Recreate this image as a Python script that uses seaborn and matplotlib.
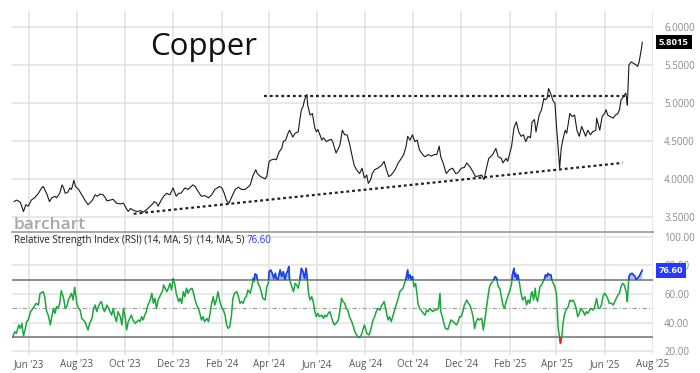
import numpy as np
import pandas as pd
import matplotlib
matplotlib.use("Agg")
import matplotlib.pyplot as plt
import matplotlib.transforms as mtransforms
from matplotlib.patches import Rectangle
from matplotlib.ticker import FormatStrFormatter
import seaborn as sns

# ---------------- data ----------------
BASE_DATE = "2023-06-01"   # day offsets below are counted from this date

price_day = [-19, -16, -14, -11, -7, -4, -1, 3, 8, 12, 16, 18, 20, 23, 26, 29, 33, 35, 39, 42,
             44, 46, 49, 52, 54, 57, 59, 63, 67, 71, 75, 80, 84, 87, 90, 94, 97, 99, 103, 107,
             111, 116, 120, 122, 126, 129, 132, 137, 142, 145, 149, 154, 157, 159, 162, 164, 168, 171, 175, 179,
             183, 187, 190, 193, 198, 202, 208, 211, 215, 219, 223, 228, 232, 236, 242, 245, 248, 251, 254, 257,
             262, 266, 270, 274, 278, 281, 284, 288, 290, 294, 300, 302, 305, 308, 312, 314, 318, 321, 323, 326,
             329, 331, 335, 338, 342, 344, 346, 348, 350, 353, 354, 357, 360, 363, 365, 367, 372, 374, 378, 381,
             384, 386, 390, 393, 395, 398, 401, 404, 407, 410, 413, 416, 420, 423, 426, 429, 431, 434, 436, 439,
             443, 448, 451, 454, 457, 460, 465, 469, 473, 476, 479, 481, 484, 487, 490, 493, 496, 500, 503, 507,
             511, 515, 518, 521, 523, 526, 530, 534, 538, 542, 545, 549, 553, 556, 560, 563, 567, 572, 575, 578,
             581, 584, 589, 593, 596, 600, 602, 606, 608, 613, 616, 619, 622, 625, 628, 631, 634, 637, 639, 642,
             644, 648, 651, 654, 656, 658, 660, 663, 666, 668, 670, 672, 674, 676, 678, 681, 683, 687, 690, 693,
             696, 699, 702, 704, 707, 710, 713, 716, 720, 721, 725, 728, 731, 733, 735, 738, 742, 745, 748, 750,
             752, 755, 758, 759, 760, 762, 765, 768, 771, 773, 775, 778, 779]
price_val = [3.70, 3.72, 3.71, 3.69, 3.57, 3.66, 3.64, 3.72, 3.76, 3.81, 3.88, 3.90, 3.86, 3.79, 3.70, 3.75, 3.77, 3.75, 3.81, 3.92,
             3.88, 3.81, 3.82, 3.88, 3.86, 3.98, 3.90, 3.86, 3.79, 3.72, 3.66, 3.71, 3.79, 3.77, 3.80, 3.79, 3.75, 3.71, 3.72, 3.73,
             3.68, 3.67, 3.68, 3.64, 3.57, 3.61, 3.59, 3.57, 3.58, 3.56, 3.59, 3.64, 3.67, 3.70, 3.68, 3.64, 3.72, 3.77, 3.81, 3.79,
             3.88, 3.77, 3.81, 3.81, 3.88, 3.86, 3.92, 3.90, 3.83, 3.77, 3.78, 3.75, 3.79, 3.86, 3.90, 3.88, 3.81, 3.71, 3.68, 3.75,
             3.86, 3.89, 3.86, 3.86, 3.89, 3.92, 4.03, 4.12, 4.07, 4.03, 4.00, 4.03, 4.23, 4.25, 4.26, 4.25, 4.36, 4.40, 4.49, 4.51,
             4.60, 4.64, 4.55, 4.60, 4.62, 4.78, 4.91, 4.95, 5.04, 5.11, 4.97, 4.84, 4.86, 4.67, 4.62, 4.65, 4.51, 4.54, 4.49, 4.51,
             4.52, 4.48, 4.34, 4.40, 4.45, 4.64, 4.58, 4.58, 4.47, 4.32, 4.18, 4.12, 4.07, 4.14, 4.01, 4.05, 3.94, 3.99, 4.07, 4.12,
             4.14, 4.18, 4.23, 4.12, 4.03, 4.05, 4.12, 4.21, 4.27, 4.32, 4.43, 4.56, 4.51, 4.58, 4.49, 4.51, 4.38, 4.32, 4.29, 4.32,
             4.30, 4.32, 4.32, 4.43, 4.29, 4.21, 4.07, 4.12, 4.14, 4.07, 4.08, 4.14, 4.15, 4.21, 4.16, 4.11, 4.03, 4.04, 4.05, 3.99,
             4.14, 4.27, 4.32, 4.40, 4.29, 4.27, 4.21, 4.27, 4.23, 4.43, 4.67, 4.75, 4.62, 4.56, 4.58, 4.49, 4.56, 4.54, 4.75, 4.78,
             4.62, 4.84, 4.91, 5.06, 5.04, 5.06, 5.19, 5.11, 5.02, 5.00, 4.69, 4.43, 4.14, 4.40, 4.51, 4.64, 4.60, 4.86, 4.82, 4.84,
             4.64, 4.56, 4.69, 4.64, 4.56, 4.64, 4.58, 4.62, 4.64, 4.80, 4.64, 4.82, 4.86, 4.91, 4.84, 4.82, 4.80, 4.84, 4.86, 4.91,
             5.04, 5.08, 5.13, 5.06, 4.97, 5.50, 5.54, 5.52, 5.50, 5.48, 5.54, 5.72, 5.8015]

rsi_day = [-21, -18, -16, -13, -11, -9, -7, -5, -3, -1, 2, 5, 9, 12, 14, 16, 18, 20, 22, 25,
           27, 29, 31, 33, 35, 37, 39, 41, 44, 46, 48, 50, 52, 54, 56, 58, 61, 63, 65, 67,
           71, 75, 77, 80, 82, 84, 86, 88, 90, 92, 94, 96, 99, 101, 103, 105, 107, 109, 111, 113,
           116, 118, 120, 122, 124, 126, 128, 130, 132, 135, 137, 139, 141, 143, 145, 147, 149, 151, 154, 156,
           158, 160, 162, 164, 166, 168, 170, 171, 175, 177, 179, 181, 183, 185, 187, 190, 192, 194, 196, 198,
           200, 202, 204, 207, 209, 211, 213, 215, 217, 219, 221, 223, 226, 228, 230, 232, 234, 236, 238, 240,
           242, 245, 247, 249, 251, 253, 255, 257, 259, 261, 264, 266, 268, 270, 272, 274, 276, 278, 281, 283,
           285, 286, 287, 289, 291, 293, 295, 297, 300, 302, 304, 305, 307, 309, 311, 313, 314, 316, 319, 321,
           323, 325, 327, 329, 330, 331, 333, 336, 338, 340, 342, 344, 346, 348, 350, 352, 354, 355, 357, 359,
           361, 363, 365, 367, 369, 372, 374, 376, 378, 380, 382, 384, 386, 388, 390, 393, 395, 397, 399, 401,
           403, 405, 407, 410, 412, 414, 416, 418, 420, 422, 424, 426, 428, 429, 432, 434, 436, 437, 439, 441,
           443, 446, 448, 450, 451, 453, 456, 458, 460, 462, 465, 467, 469, 471, 473, 475, 477, 479, 481, 482,
           484, 486, 487, 489, 491, 493, 494, 496, 498, 501, 503, 505, 507, 509, 511, 513, 515, 517, 520, 522,
           523, 525, 527, 529, 532, 534, 536, 539, 541, 543, 545, 547, 549, 551, 553, 556, 558, 560, 562, 564,
           566, 568, 570, 572, 575, 577, 579, 581, 583, 585, 587, 589, 592, 594, 596, 598, 600, 602, 604, 606,
           608, 611, 613, 614, 616, 617, 618, 620, 621, 623, 625, 627, 630, 632, 634, 636, 638, 639, 641, 643,
           644, 646, 649, 651, 653, 655, 656, 658, 659, 661, 663, 664, 666, 668, 670, 671, 672, 674, 675, 677,
           678, 680, 682, 685, 687, 689, 691, 693, 695, 697, 699, 701, 704, 706, 708, 710, 712, 714, 716, 718,
           721, 723, 725, 727, 729, 731, 733, 735, 737, 740, 742, 744, 746, 748, 750, 752, 754, 756, 759, 760,
           762, 764, 766, 768, 770, 771, 773, 776, 779]
rsi_val = [29.8, 33.7, 32.6, 38.4, 36.0, 39.5, 30.7, 34.9, 40.7, 41.9, 47.7, 50.0, 53.5, 52.3, 60.5, 60.9, 61.6, 58.1, 48.8, 44.2,
           38.4, 44.2, 50.0, 46.5, 51.2, 50.0, 53.5, 62.3, 57.0, 50.0, 51.2, 55.8, 58.1, 60.5, 55.8, 64.7, 52.3, 50.0, 48.8, 43.0,
           40.7, 34.9, 39.5, 43.0, 50.0, 52.3, 47.7, 51.2, 53.5, 54.7, 50.0, 47.7, 52.3, 50.0, 47.7, 45.3, 50.0, 44.2, 40.7, 47.7,
           44.2, 38.4, 50.0, 44.2, 34.9, 40.7, 43.0, 45.3, 41.9, 39.5, 40.7, 41.9, 40.7, 44.2, 41.9, 45.3, 47.7, 52.3, 55.8, 60.5,
           53.5, 57.0, 50.0, 55.8, 58.1, 60.5, 62.8, 66.3, 61.6, 64.0, 67.4, 62.8, 70.5, 67.4, 60.5, 54.7, 57.0, 53.5, 61.6, 58.1,
           64.0, 60.5, 62.8, 64.0, 60.5, 55.8, 52.3, 50.0, 46.5, 41.9, 44.2, 40.7, 43.0, 40.7, 46.5, 53.5, 58.1, 52.3, 55.8, 61.6,
           55.8, 50.0, 48.8, 45.3, 38.4, 36.0, 37.2, 44.2, 57.0, 60.5, 61.6, 58.1, 53.5, 54.7, 53.5, 57.0, 58.1, 62.8, 60.5, 65.1,
           70.9, 68.6, 74.0, 73.3, 67.4, 65.1, 61.6, 57.0, 55.8, 65.1, 67.4, 75.6, 76.7, 74.4, 70.9, 74.4, 70.9, 69.8, 76.7, 72.1,
           75.6, 69.8, 74.4, 76.7, 79.1, 69.8, 66.3, 61.6, 67.4, 66.3, 64.0, 69.8, 77.9, 75.6, 70.9, 77.9, 67.4, 60.5, 55.8, 58.1,
           54.7, 47.7, 44.2, 46.5, 44.2, 45.3, 43.0, 45.3, 44.2, 46.5, 47.7, 44.2, 40.7, 38.4, 39.5, 41.9, 48.8, 57.0, 54.7, 53.5,
           50.0, 48.8, 44.2, 40.7, 37.2, 33.7, 31.4, 30.2, 29.8, 31.4, 34.9, 38.4, 34.9, 32.6, 31.4, 34.9, 39.5, 41.9, 44.2, 47.7,
           50.0, 48.8, 52.3, 53.5, 54.7, 50.0, 41.9, 44.2, 40.7, 44.2, 50.0, 53.5, 57.0, 61.6, 62.8, 64.0, 67.4, 70.9, 76.7, 70.9,
           73.3, 69.8, 72.1, 65.1, 67.4, 59.3, 53.5, 50.0, 48.8, 46.5, 45.3, 48.8, 47.7, 50.0, 48.8, 47.7, 48.8, 48.8, 50.0, 60.5,
           47.7, 44.2, 39.5, 36.0, 35.3, 38.4, 41.9, 40.7, 39.5, 38.4, 40.7, 44.2, 44.2, 47.7, 52.3, 55.8, 53.5, 52.3, 48.8, 44.2,
           36.0, 40.7, 43.0, 41.9, 43.0, 34.9, 41.9, 50.0, 58.1, 65.1, 67.4, 68.6, 72.1, 70.9, 65.1, 64.0, 58.1, 52.3, 50.0, 54.7,
           58.1, 62.8, 67.4, 73.3, 77.9, 72.1, 74.4, 69.8, 73.3, 67.4, 60.5, 55.8, 58.1, 52.3, 55.8, 53.5, 60.5, 61.6, 55.8, 64.0,
           58.1, 54.7, 65.1, 66.3, 68.6, 70.9, 73.3, 72.1, 74.4, 73.3, 73.3, 69.8, 67.4, 65.1, 59.3, 50.0, 37.2, 29.1, 25.6, 31.4,
           38.4, 45.3, 48.8, 51.2, 55.8, 54.7, 55.8, 53.5, 50.0, 44.2, 46.5, 50.0, 47.7, 45.3, 47.7, 46.5, 48.8, 50.0, 48.8, 50.0,
           57.0, 50.0, 50.0, 52.3, 58.1, 60.5, 59.3, 57.0, 53.5, 53.5, 52.3, 54.7, 57.0, 59.3, 60.5, 65.1, 67.4, 66.3, 60.5, 54.7,
           72.1, 74.0, 74.4, 73.3, 72.1, 69.8, 70.9, 73.3, 76.6]

# drawn trend lines (start / end)
resist_day = [298, 760]
resist_val = [5.09, 5.09]
support_day = [133, 754]
support_val = [3.54, 4.21]

price_ticks = [3.5, 4.0, 4.5, 5.0, 5.5, 6.0]
rsi_ticks = [20, 40, 60, 80, 100]
month_ticks = ["2023-06-01", "2023-08-01", "2023-10-01", "2023-12-01", "2024-02-01", "2024-04-01",
               "2024-06-01", "2024-08-01", "2024-10-01", "2024-12-01", "2025-02-01", "2025-04-01",
               "2025-06-01", "2025-08-01"]
month_labels = ["Jun '23", "Aug '23", "Oct '23", "Dec '23", "Feb '24", "Apr '24", "Jun '24",
                "Aug '24", "Oct '24", "Dec '24", "Feb '25", "Apr '25", "Jun '25", "Aug '25"]
title = "Copper"
rsi_title = "Relative Strength Index (RSI) (14, MA, 5)  (14, MA, 5) "

# ---------------- build frames ----------------
base = pd.Timestamp(BASE_DATE)
def to_dates(days):
    return base + pd.to_timedelta(np.asarray(days, dtype=float), unit="D")

price_df = pd.DataFrame({"date": to_dates(price_day), "price": price_val})
rsi_df = pd.DataFrame({"date": to_dates(rsi_day), "rsi": rsi_val})
resist_df = pd.DataFrame({"date": to_dates(resist_day), "v": resist_val})
support_df = pd.DataFrame({"date": to_dates(support_day), "v": support_val})

# ---------------- style ----------------
sns.set_style("white")
plt.rcParams["font.family"] = ["Open Sans", "DejaVu Sans"]

GRID = "#e4e4e4"
GREEN = "#1aa83c"
BLUE = "#2438ff"
RED = "#ff1a1a"
TICKC = "#8a8a8a"

fig = plt.figure(figsize=(7.0, 3.73), dpi=100)
W, H = 700, 373
ax1 = fig.add_axes([12 / W, 1 - 232 / H, 641 / W, 221 / H])
ax2 = fig.add_axes([12 / W, 1 - 355 / H, 641 / W, 122 / H], sharex=ax1)

xmin = base - pd.Timedelta(days=21.6)
xmax = base + pd.Timedelta(days=792.6)

# ---------------- price panel ----------------
sns.lineplot(data=price_df, x="date", y="price", ax=ax1, color="#1a1a1a", lw=0.8)
sns.lineplot(data=resist_df, x="date", y="v", ax=ax1, color="#222222", lw=1.6,
             linestyle=(0, (1.3, 1.3)))
sns.lineplot(data=support_df, x="date", y="v", ax=ax1, color="#222222", lw=1.6,
             linestyle=(0, (1.3, 1.3)))

ax1.set_xlim(xmin, xmax)
ax1.set_ylim(3.30, 6.21)
ax1.set_xlabel("")
ax1.set_ylabel("")
ax1.yaxis.tick_right()
ax1.set_yticks(price_ticks)
ax1.yaxis.set_major_formatter(FormatStrFormatter("%.4f"))
ax1.set_xticks(pd.to_datetime(month_ticks))
ax1.tick_params(axis="x", labelbottom=False, length=0)
ax1.tick_params(axis="y", length=0, pad=8, labelsize=7, labelcolor=TICKC)
ax1.grid(True, color=GRID, lw=1.2)
ax1.set_axisbelow(True)
for s in ["top", "left", "right"]:
    ax1.spines[s].set_visible(False)
ax1.spines["bottom"].set_color("#a8a8a8")
ax1.spines["bottom"].set_linewidth(1.4)

ax1.text(0.215, 0.80, title, transform=ax1.transAxes, fontsize=22.5, color="#111111",
         va="baseline", ha="left")
ax1.text(0.003, 0.012, "barchart", transform=ax1.transAxes, fontsize=12.5,
         fontweight="semibold", color="#a8a8a8", va="baseline", ha="left")

blend1 = mtransforms.blended_transform_factory(ax1.transAxes, ax1.transData)
ax1.text(1.0 + 6 / 641, price_val[-1], f"{price_val[-1]:.4f}", transform=blend1,
         color="white", fontsize=6.8, fontweight="bold", va="center", ha="left",
         bbox=dict(boxstyle="square,pad=0.3", fc="black", ec="none"), clip_on=False)

# ---------------- RSI panel ----------------
rsi_arr = np.asarray(rsi_val)
dates = rsi_df["date"].values
ax2.fill_between(dates, 70, rsi_arr, where=rsi_arr >= 70, interpolate=True,
                 color="#b9c0ff", lw=0)
ax2.fill_between(dates, 30, rsi_arr, where=rsi_arr <= 30, interpolate=True,
                 color="#ffb3b3", lw=0)

ax2.axhline(70, color="#858585", lw=1.3)
ax2.axhline(30, color="#858585", lw=1.3)
ax2.axhline(50, color="#9a9a9a", lw=0.8, linestyle=(0, (4, 2, 1, 2)))

sns.lineplot(data=rsi_df, x="date", y="rsi", ax=ax2, color=GREEN, lw=1.1)
blend2 = mtransforms.blended_transform_factory(ax2.transAxes, ax2.transData)
sns.lineplot(data=rsi_df, x="date", y="rsi", ax=ax2, color=BLUE, lw=1.1)
ax2.lines[-1].set_clip_path(Rectangle((0, 70), 1, 60, transform=blend2))
sns.lineplot(data=rsi_df, x="date", y="rsi", ax=ax2, color=RED, lw=1.1)
ax2.lines[-1].set_clip_path(Rectangle((0, 0), 1, 30, transform=blend2))

ax2.set_xlim(xmin, xmax)
ax2.set_ylim(17.5, 102.5)
ax2.set_xlabel("")
ax2.set_ylabel("")
ax2.yaxis.tick_right()
ax2.set_yticks(rsi_ticks)
ax2.yaxis.set_major_formatter(FormatStrFormatter("%.2f"))
ax2.set_xticks(pd.to_datetime(month_ticks))
ax2.set_xticklabels(month_labels)
ax2.tick_params(axis="x", length=0, pad=3, labelsize=7, labelcolor="#555555")
ax2.tick_params(axis="y", length=0, pad=8, labelsize=7, labelcolor=TICKC)
ax2.grid(True, color=GRID, lw=1.2)
ax2.set_axisbelow(True)
for s in ax2.spines.values():
    s.set_visible(False)

# the top RSI tick label is cut by the panel edge in the reference
clip_bb = mtransforms.TransformedBbox(
    mtransforms.Bbox([[0, 0], [1, 1 - 233 / H]]), fig.transFigure)
for tk in ax2.yaxis.get_major_ticks():
    tk.label2.set_clip_box(clip_bb)
    tk.label2.set_clip_on(True)

t = ax2.text(0.003, 0.935, rsi_title, transform=ax2.transAxes, fontsize=7,
             color="#222222", va="center", ha="left")
ax2.annotate(f"{rsi_val[-1]:.2f}", xy=(1, 0.5), xycoords=t, fontsize=7, color=BLUE,
             va="center", ha="left")
ax2.text(1.0 + 6 / 641, rsi_val[-1], f"{rsi_val[-1]:.2f}", transform=blend2,
         color="white", fontsize=6.8, fontweight="bold", va="center", ha="left",
         bbox=dict(boxstyle="square,pad=0.3", fc=BLUE, ec="none"), clip_on=False, zorder=5)

fig.savefig("out.png", dpi=100)
